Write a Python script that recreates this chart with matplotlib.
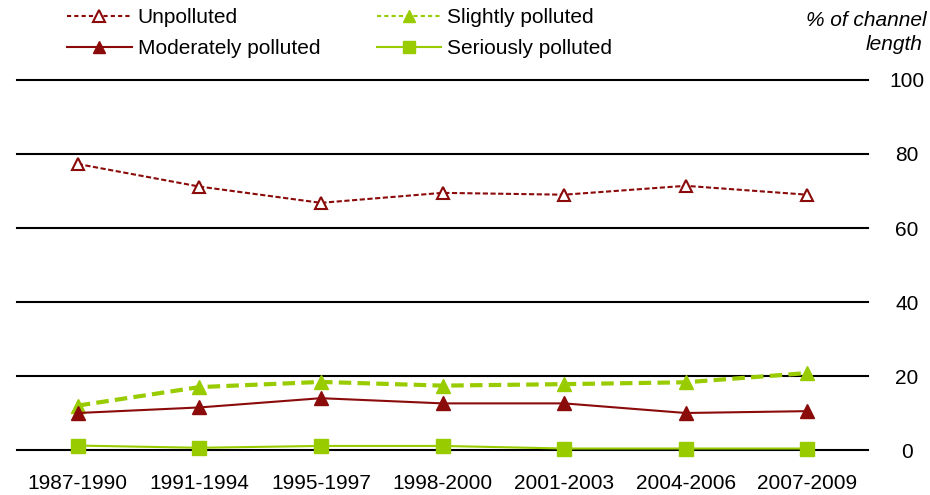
import matplotlib.pyplot as plt
from matplotlib.lines import Line2D

plt.rcParams['font.family'] = ['Liberation Sans', 'DejaVu Sans']

periods = ['1987-1990', '1991-1994', '1995-1997', '1998-2000',
           '2001-2003', '2004-2006', '2007-2009']
unpolluted = [77.3, 71.2, 66.8, 69.5, 69.0, 71.4, 69.0]
slightly = [12.0, 17.0, 18.4, 17.4, 17.8, 18.3, 20.8]
moderately = [10.0, 11.5, 14.0, 12.6, 12.6, 10.0, 10.5]
seriously = [1.2, 0.6, 1.1, 1.1, 0.4, 0.4, 0.4]

red = '#8b0a0a'
green = '#99cc00'
fs = 15

fig = plt.figure(figsize=(9.3, 4.95), dpi=100)
ax = fig.add_axes([17 / 930, 45 / 495, 851 / 930, 370 / 495])

x = range(len(periods))
ax.plot(x, unpolluted, color=red, ls=(0, (2.5, 1.2)), lw=1.5, marker='^',
        ms=9, mfc='white', mec=red, mew=1.5, label='Unpolluted')
ax.plot(x, slightly, color=green, ls=(0, (3, 1.5)), lw=3, marker='^',
        ms=10, mfc=green, mec=green, label='Slightly polluted')
ax.plot(x, moderately, color=red, lw=1.5, marker='^', ms=10,
        mfc=red, mec=red, label='Moderately polluted')
ax.plot(x, seriously, color=green, lw=1.5, marker='s', ms=10,
        mfc=green, mec=green, label='Seriously polluted')

ax.set_xlim(-0.5, len(periods) - 0.5)
ax.set_ylim(0, 100)
ax.set_yticks(range(0, 101, 20))
ax.yaxis.tick_right()
ax.set_xticks(list(x))
ax.set_xticklabels(periods)
ax.tick_params(axis='both', length=0, labelsize=fs, colors='black')
ax.tick_params(axis='y', pad=28)
ax.tick_params(axis='x', pad=17)
for lab in ax.get_yticklabels():
    lab.set_horizontalalignment('center')
ax.grid(axis='y', color='black', lw=1.5)
ax.set_axisbelow(True)
# keep the 0 and 100 gridlines at full width
for gl in ax.yaxis.get_gridlines():
    gl.set_clip_on(False)
for s in ax.spines.values():
    s.set_visible(False)
for ln in ax.lines:
    ln.set_clip_on(False)

handles = [
    Line2D([], [], color=red, ls=(0, (2, 1.5)), lw=1.5, marker='^', ms=8,
           mfc='white', mec=red, mew=1.5),
    Line2D([], [], color=green, ls=(0, (2, 1.5)), lw=1.5, marker='^', ms=9,
           mfc=green, mec=green),
    Line2D([], [], color=red, lw=1.5, marker='^', ms=9, mfc=red, mec=red),
    Line2D([], [], color=green, lw=1.5, marker='s', ms=8, mfc=green, mec=green),
]
labels = ['Unpolluted', 'Slightly polluted', 'Moderately polluted', 'Seriously polluted']
# legend fills column-wise: left column Unpolluted/Moderately, right column Slightly/Seriously
order = [0, 2, 1, 3]
fig.legend([handles[i] for i in order], [labels[i] for i in order], ncol=2,
           loc='upper left', bbox_to_anchor=(67 / 930, 1 - 8 / 495),
           frameon=False, fontsize=fs, handlelength=3.1, columnspacing=2.7,
           labelspacing=0.57, handletextpad=0.3, borderpad=0,
           borderaxespad=0)

fig.text(927 / 930, 1 - 21 / 495, '% of channel', ha='right', va='center',
         style='italic', fontsize=fs)
fig.text(923 / 930, 1 - 44 / 495, 'length', ha='right', va='center',
         style='italic', fontsize=fs)

fig.savefig('out.png', dpi=100)
